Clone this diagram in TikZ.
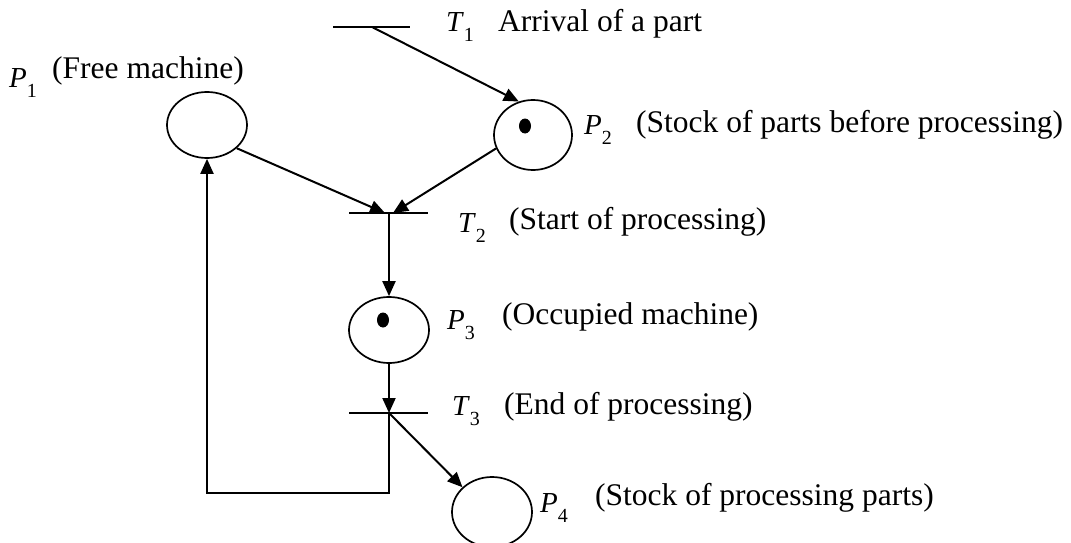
\documentclass[tikz,border=0pt]{standalone}
\usepackage{fontspec}
\setmainfont{Liberation Serif}
\usetikzlibrary{arrows.meta,calc,shapes.geometric}

% italic letter with a lowered upright index, as in P_1 or T_1
\newcommand{\netsym}[2]{\textit{#1}\raisebox{-0.32em}{\fontsize{20}{22}\selectfont #2}}

\tikzset{
  place/.style={draw, line width=1.7pt, ellipse, minimum width=80pt, minimum height=66pt, inner sep=0pt},
  token/.style={fill=black, ellipse, minimum width=12pt, minimum height=15pt, inner sep=0pt},
  bar/.style={line width=1.7pt},
  arc/.style={line width=2pt, -{Triangle[length=15pt,width=13pt]}},
  txt/.style={anchor=base west, inner sep=0pt, font=\fontsize{31.5}{36}\selectfont},
  sym/.style={inner sep=0pt, font=\fontsize{29}{32}\selectfont}
}

\begin{document}
\begin{tikzpicture}[x=1pt, y=-1pt]
  \useasboundingbox (0,0) rectangle (1071,543);

  % places
  \node[place] (P1) at (207,125) {};
  \node[place, minimum width=78pt, minimum height=70pt] (P2) at (533,135) {};
  \node[place] (P3) at (389,330) {};
  \node[place, minimum height=70pt] (P4) at (492,512) {};

  % tokens
  \node[token] (k2) at (525,126) {};
  \node[token] (k3) at (383,320) {};

  % transitions
  \coordinate (T1) at (372,27);
  \coordinate (T2) at (389,213);
  \coordinate (T3) at (389,413);
  \draw[bar] ($(T1)+(-39,0)$) -- ($(T1)+(38,0)$);
  \draw[bar] ($(T2)+(-40,0)$) -- ($(T2)+(39,0)$);
  \draw[bar] ($(T3)+(-40,0)$) -- ($(T3)+(39,0)$);

  % arcs
  \draw[arc] (T1) -- (P2.113);
  \draw[arc] (P1.-38) -- ($(T2)+(-4,0)$);
  \draw[arc] (P2.200) -- ($(T2)+(4,0)$);
  \draw[arc] (T2) -- (P3.north);
  \draw[arc] (P3.south) -- (T3);
  \draw[arc] (T3) -- (P4.140);
  \coordinate (loop) at (207,493);
  \draw[arc] (T3) |- (loop) -- (P1.south);

  % labels
  \node[sym] (t1) at (460,27) {\netsym{T}{1}};
  \node[txt] (l1) at (498,32) {Arrival of a part};
  \node[sym] (p1) at (23,83) {\netsym{P}{1}};
  \node[txt] (l2) at (52,78) {(Free machine)};
  \node[sym] (p2) at (598,130) {\netsym{P}{2}};
  \node[txt] (l3) at (636,132) {(Stock of parts before processing)};
  \node[sym] (t2) at (472,228) {\netsym{T}{2}};
  \node[txt] (l4) at (509,229) {(Start of processing)};
  \node[sym] (p3) at (461,325) {\netsym{P}{3}};
  \node[txt] (l5) at (502,324) {(Occupied machine)};
  \node[sym] (t3) at (466,411) {\netsym{T}{3}};
  \node[txt] (l6) at (504,414) {(End of processing)};
  \node[sym] (p4) at (554,508) {\netsym{P}{4}};
  \node[txt] (l7) at (595,505) {(Stock of processing parts)};
\end{tikzpicture}
\end{document}
